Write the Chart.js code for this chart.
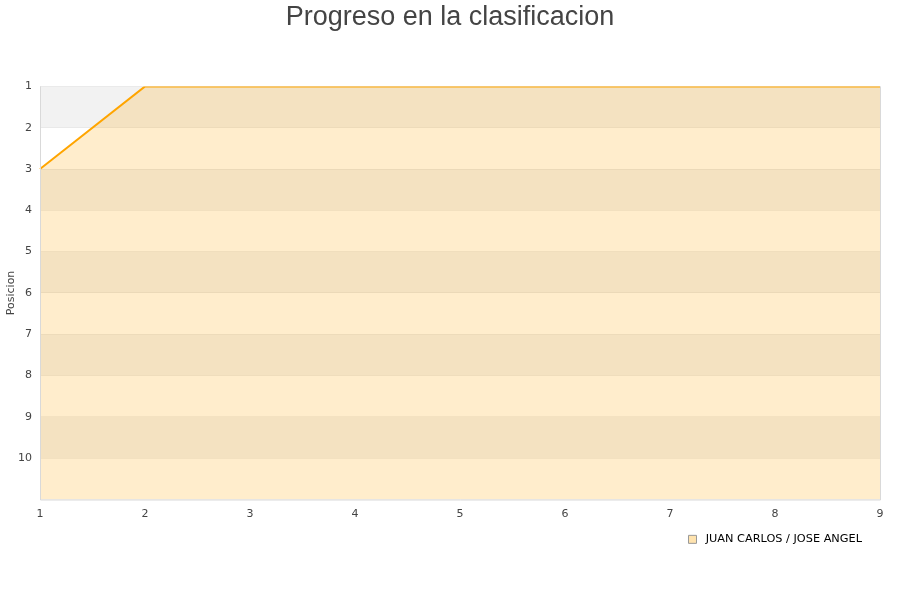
<!DOCTYPE html>
<html>
<head>
<meta charset="utf-8">
<script src="https://cdn.jsdelivr.net/npm/chart.js@4"></script>
<style>
  html, body { margin: 0; padding: 0; background: #fff; }
  #wrap { width: 900px; height: 600px; }
</style>
</head>
<body>
<div id="wrap"><canvas id="chart" width="900" height="600"></canvas></div>
<script>
// data
const jornadas = ['1', '2', '3', '4', '5', '6', '7', '8', '9'];
const posiciones = [3, 1, 1, 1, 1, 1, 1, 1, 1];
const equipo = 'JUAN CARLOS / JOSE ANGEL';
const posMin = 1;
const posMax = 11;

// alternating grey / white bands behind the plot, plus the light frame
const bandsPlugin = {
  id: 'bands',
  afterLayout(chart) {
    // centre the title on the whole canvas, pull the legend in a bit
    if (chart.titleBlock) {
      chart.titleBlock.left = 0;
      chart.titleBlock.right = chart.width;
      chart.titleBlock.width = chart.width;
    }
    if (chart.legend) {
      chart.legend.left -= 13;
      chart.legend.right -= 13;
    }
  },
  beforeDraw(chart) {
    const { ctx, chartArea, scales } = chart;
    const y = scales.y;
    ctx.save();
    for (let v = posMin; v < posMax; v += 2) {
      const top = y.getPixelForValue(v);
      const bottom = y.getPixelForValue(v + 1);
      ctx.fillStyle = '#f2f2f2';
      ctx.fillRect(chartArea.left, top, chartArea.right - chartArea.left, bottom - top);
    }
    ctx.restore();
  },
  afterDatasetsDraw(chart) {
    const { ctx, chartArea } = chart;
    ctx.save();
    ctx.strokeStyle = '#d9d9d9';
    ctx.lineWidth = 1;
    ctx.beginPath();
    ctx.moveTo(chartArea.left + 0.5, chartArea.top);
    ctx.lineTo(chartArea.left + 0.5, chartArea.bottom + 0.5);
    ctx.lineTo(chartArea.right + 0.5, chartArea.bottom + 0.5);
    ctx.lineTo(chartArea.right + 0.5, chartArea.top);
    ctx.stroke();
    ctx.restore();
  }
};

new Chart(document.getElementById('chart'), {
  type: 'line',
  data: {
    labels: jornadas,
    datasets: [{
      label: equipo,
      data: posiciones,
      borderColor: '#ffa500',
      borderWidth: 2,
      backgroundColor: 'rgba(255, 165, 0, 0.2)',
      fill: { value: posMax },
      pointRadius: 0,
      tension: 0
    }]
  },
  plugins: [bandsPlugin],
  options: {
    responsive: false,
    animation: false,
    layout: { padding: { left: 0, right: 20, top: 0, bottom: 45 } },
    plugins: {
      title: {
        display: true,
        text: 'Progreso en la clasificacion',
        color: '#444',
        font: { family: 'Liberation Sans', size: 27, weight: 'normal' },
        padding: { top: 1, bottom: 53 }
      },
      legend: {
        position: 'bottom',
        align: 'end',
        labels: {
          boxWidth: 8,
          boxHeight: 8,
          padding: 5,
          color: '#000',
          font: { family: 'DejaVu Sans', size: 11.3 },
          generateLabels(chart) {
            const ds = chart.data.datasets[0];
            return [{
              text: ' ' + ds.label,
              fillStyle: 'rgba(255, 215, 140, 0.7)',
              strokeStyle: '#999',
              lineWidth: 1,
              datasetIndex: 0
            }];
          }
        }
      },
      tooltip: { enabled: false }
    },
    scales: {
      x: {
        offset: false,
        grid: { display: false, drawTicks: false },
        border: { display: false },
        ticks: {
          color: '#444',
          padding: 8,
          maxRotation: 0,
          font: { family: 'DejaVu Sans', size: 11 }
        }
      },
      y: {
        reverse: true,
        min: posMin,
        max: posMax,
        afterFit(scale) { scale.width = 40; },
        grid: { color: 'rgba(0, 0, 0, 0.05)', drawTicks: false },
        border: { display: false },
        title: {
          display: true,
          text: 'Posicion',
          color: '#444',
          font: { family: 'DejaVu Sans', size: 11 },
          padding: { top: 5, bottom: 4 }
        },
        ticks: {
          stepSize: 1,
          color: '#444',
          padding: 8,
          font: { family: 'DejaVu Sans', size: 11 },
          callback: v => (v < posMax ? v : '')
        }
      }
    }
  }
});
</script>
</body>
</html>
